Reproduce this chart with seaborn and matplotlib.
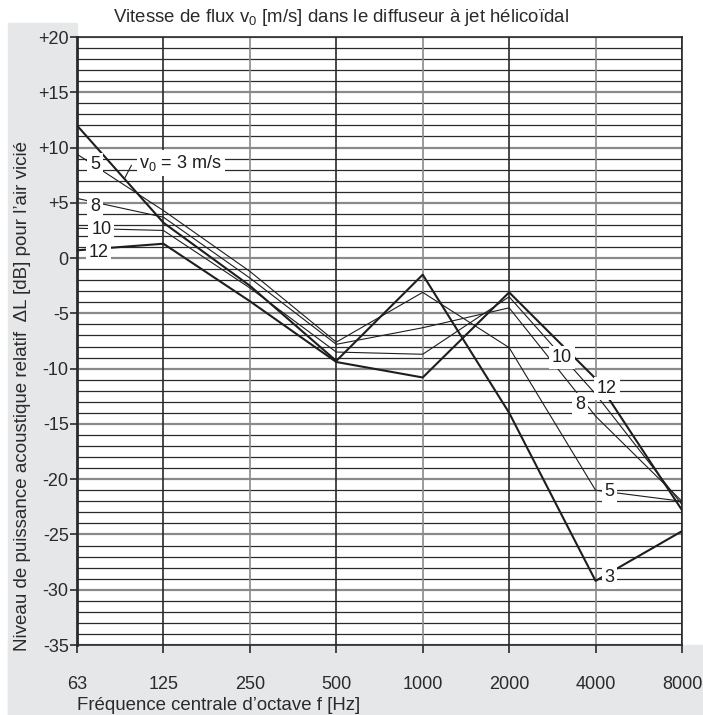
import numpy as np
import pandas as pd
import matplotlib
matplotlib.use("Agg")
import matplotlib.pyplot as plt
from matplotlib.patches import Rectangle
import seaborn as sns

# octave band centre frequencies
freqs = ["63", "125", "250", "500", "1000", "2000", "4000", "8000"]

# relative sound power level dL [dB] per flow speed v0 [m/s]
v3 = [12.0, 3.2, -2.5, -9.3, -1.5, -14.0, -29.2, -24.7]
v5 = [9.4, 4.3, -1.2, -7.6, -3.1, -8.1, -21.0, -22.0]
v8 = [5.4, 3.7, -1.8, -7.8, -6.3, -4.5, -14.3, -22.0]
v10 = [2.7, 2.5, -2.7, -8.5, -8.7, -3.5, -12.3, -22.3]
v12 = [0.7, 1.3, -3.9, -9.4, -10.8, -3.1, -10.9, -22.8]

speeds = ["3", "5", "8", "10", "12"]
series = [v3, v5, v8, v10, v12]

y_ticks = list(range(-35, 21, 5))

sns.set_theme(style="white")
plt.rcParams["font.family"] = ["Liberation Sans", "DejaVu Sans"]
plt.rcParams["mathtext.fontset"] = "custom"
plt.rcParams["mathtext.rm"] = "Liberation Sans"

W, H = 703, 715
fig = plt.figure(figsize=(W / 100, H / 100), dpi=100)
fig.patch.set_facecolor("white")

# grey L-shaped background (behind the axes)
grey = "#e6e7e8"
fig.patches.append(Rectangle((8 / W, 0), (77 - 8) / W, (H - 23) / H,
                             transform=fig.transFigure, color=grey, zorder=-1))
fig.patches.append(Rectangle((8 / W, 0), (W - 8) / W, 70 / H,
                             transform=fig.transFigure, color=grey, zorder=-1))

ax = fig.add_axes([77 / W, 70 / H, (682 - 77) / W, (645 - 37) / H])
ax.set_facecolor("white")

pos = np.arange(len(freqs))

# grid: every 1 dB, 5 dB lines lighter grey
for yv in range(-35, 21):
    if yv % 5 == 0:
        ax.axhline(yv, color="#8a8a8a", lw=1.6, zorder=1)
    else:
        ax.axhline(yv, color="#2a2a2a", lw=0.9, zorder=1)
for i in pos[1:]:
    c = "#8a8a8a" if i % 2 == 0 else "#2a2a2a"
    ax.axvline(i, color=c, lw=1.2, zorder=1)

df = pd.DataFrame({
    "pos": np.tile(pos, len(speeds)),
    "dL": np.concatenate(series),
    "v": np.repeat(speeds, len(freqs)),
})

widths = {"3": 1.5, "5": 0.8, "8": 0.8, "10": 0.8, "12": 1.5}
for v in speeds:
    sns.lineplot(data=df[df["v"] == v], x="pos", y="dL", color="#1e1e1e",
                 lw=widths[v], ax=ax, zorder=3, legend=False)

# curve labels
box = dict(boxstyle="square,pad=0.15", fc="white", ec="none")
labels = [
    ("5", 0.21, 8.5), ("8", 0.21, 4.7), ("10", 0.28, 2.6), ("12", 0.25, 0.5),
    ("10", 5.61, -9.0), ("12", 6.13, -11.8), ("8", 5.82, -13.2),
    ("5", 6.16, -21.1), ("3", 6.16, -28.9),
]
for txt, x, y in labels:
    ax.text(x, y, txt, fontsize=13, ha="center", va="center",
            color="#1e1e1e", bbox=box, zorder=5)

ax.text(1.2, 8.6, r"v$_\mathregular{0}$ = 3 m/s", fontsize=13, ha="center",
        va="center", color="#1e1e1e", bbox=box, zorder=5)
ax.plot([0.63, 0.55], [8.4, 7.2], color="#1e1e1e", lw=0.8, zorder=4)

ax.set_xlim(0, 7)
ax.set_ylim(-35, 20)
ax.set_xticks(pos)
ax.set_xticklabels(freqs, fontsize=13, color="#2a2a2a")
ax.set_yticks(y_ticks)
ax.set_yticklabels([f"+{t}" if t > 0 else str(t) for t in y_ticks],
                   fontsize=13, color="#2a2a2a")
ax.tick_params(axis="x", direction="out", length=6, width=1.2, pad=16,
               bottom=True, color="#2a2a2a")
ax.tick_params(axis="y", direction="out", length=5, width=1.2, pad=1,
               left=True, color="#2a2a2a")
ax.set_xlabel("")
ax.set_ylabel("")

for side in ["top", "right", "left", "bottom"]:
    ax.spines[side].set_visible(True)
    ax.spines[side].set_color("#2a2a2a")
    ax.spines[side].set_linewidth(1.2)
ax.spines["left"].set_linewidth(2)

fig.text(341 / W, 1 - 17 / H,
         r"Vitesse de flux v$_\mathregular{0}$ [m/s] dans le diffuseur à jet hélicoïdal",
         fontsize=13.4, ha="center", va="center", color="#2a2a2a")
fig.text(77 / W, 1 - 706 / H, "Fréquence centrale d’octave f [Hz]",
         fontsize=13.4, ha="left", va="center", color="#2a2a2a")
fig.text(23 / W, 1 - 396 / H,
         "Niveau de puissance acoustique relatif  ΔL [dB] pour l’air vicié",
         fontsize=13.5, ha="center", va="center", rotation=90, color="#2a2a2a")

fig.savefig("out.png", dpi=100)
